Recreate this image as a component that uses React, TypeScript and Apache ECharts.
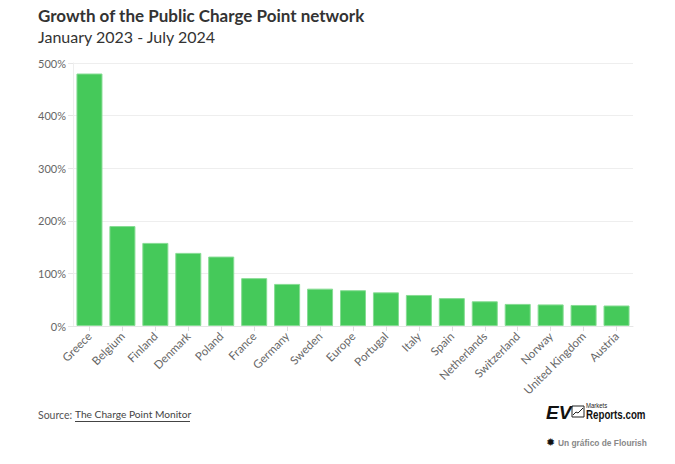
import React, { useEffect, useRef } from "react";
import * as echarts from "echarts";

const categories = [
  "Greece", "Belgium", "Finland", "Denmark", "Poland", "France", "Germany", "Sweden",
  "Europe", "Portugal", "Italy", "Spain", "Netherlands", "Switzerland", "Norway",
  "United Kingdom", "Austria",
];
const growth = [480, 190, 158, 139, 132, 91, 80, 71, 68, 64, 59, 53, 47, 42, 41, 40, 39];

const titleText = "Growth of the Public Charge Point network";
const subtitleText = "January 2023 - July 2024";
const FONT = "Lato, 'Noto Sans', sans-serif";

export default function App() {
  const ref = useRef<HTMLDivElement>(null);
  useEffect(() => {
    document.body.style.margin = "0";
    const chart = echarts.init(ref.current!, null, { renderer: "svg" });
    chart.setOption({
      animation: false,
      backgroundColor: "#ffffff",
      textStyle: { fontFamily: FONT },
      grid: { left: 73, right: 42, top: 63, bottom: 138, containLabel: false },
      xAxis: {
        type: "category",
        data: categories,
        axisLine: { show: true, lineStyle: { color: "#e6e6e6" } },
        axisTick: { show: true, alignWithLabel: true, length: 5, lineStyle: { color: "#dddddd" } },
        axisLabel: { rotate: 45, color: "#666", fontSize: 11.5, margin: 8, fontFamily: FONT, interval: 0 },
      },
      yAxis: {
        type: "value",
        min: 0,
        max: 500,
        interval: 100,
        axisLine: { show: true, lineStyle: { color: "#eeeeee" } },
        axisTick: { show: true, length: 5, lineStyle: { color: "#e6e6e6" } },
        splitLine: { lineStyle: { color: "#eeeeee" } },
        axisLabel: { formatter: "{value}%", color: "#666", fontSize: 11, margin: 7, fontFamily: FONT },
      },
      series: [
        {
          type: "bar",
          data: growth,
          barCategoryGap: "21%",
          itemStyle: { color: "#45c95a", borderColor: "#86dc93", borderWidth: 1 },
        },
      ],
      graphic: [
        {
          type: "text", left: 38, top: 7,
          style: { text: titleText, fontSize: 17, fontWeight: "bold", fill: "#333", fontFamily: FONT },
        },
        {
          type: "text", left: 38, top: 28,
          style: { text: subtitleText, fontSize: 16, fill: "#333", fontFamily: FONT },
        },
        {
          type: "text", left: 38, top: 409,
          style: { text: "Source:", fontSize: 10.5, fill: "#555", fontFamily: FONT },
        },
        {
          type: "text", left: 75, top: 409,
          style: { text: "The Charge Point Monitor", fontSize: 10.2, fill: "#444", fontFamily: FONT },
        },
        {
          type: "line",
          shape: { x1: 75, y1: 421.5, x2: 190, y2: 421.5 },
          style: { stroke: "#444", lineWidth: 1 },
        },
        {
          type: "text", x: 546, y: 403,
          style: { text: "EV", fontSize: 19, fontWeight: "bold", fontStyle: "italic", fill: "#111", fontFamily: "'Liberation Sans', Arial, sans-serif" },
        },
        {
          type: "rect",
          shape: { x: 572, y: 406, width: 12, height: 11 },
          style: { fill: "none", stroke: "#222", lineWidth: 1 },
        },
        {
          type: "polyline",
          shape: { points: [[573, 415], [576, 412], [578, 413], [583, 408]] },
          style: { stroke: "#222", lineWidth: 1, fill: "none" },
        },
        {
          type: "text", x: 586, y: 402, scaleX: 0.85,
          style: { text: "Markets", fontSize: 7, fill: "#222", fontFamily: "'Liberation Sans', sans-serif" },
        },
        {
          type: "text", x: 586, y: 408, scaleX: 0.78,
          style: { text: "Reports.com", fontSize: 12.5, fontWeight: "bold", fill: "#111", fontFamily: "'Liberation Sans', sans-serif" },
        },
        {
          type: "text", left: 546, top: 437,
          style: { text: "\u2739", fontSize: 11, fill: "#111", fontFamily: "'DejaVu Sans', sans-serif" },
        },
        {
          type: "text", left: 558, top: 439,
          style: { text: "Un gráfico de Flourish", fontSize: 8.4, fontWeight: "bold", fill: "#888", fontFamily: "'Liberation Sans', Arial, sans-serif" },
        },
      ],
    });
    return () => chart.dispose();
  }, []);
  return (
    <div
      ref={ref}
      style={{ position: "fixed", left: 0, top: 0, width: 675, height: 464, background: "#fff" }}
    />
  );
}
